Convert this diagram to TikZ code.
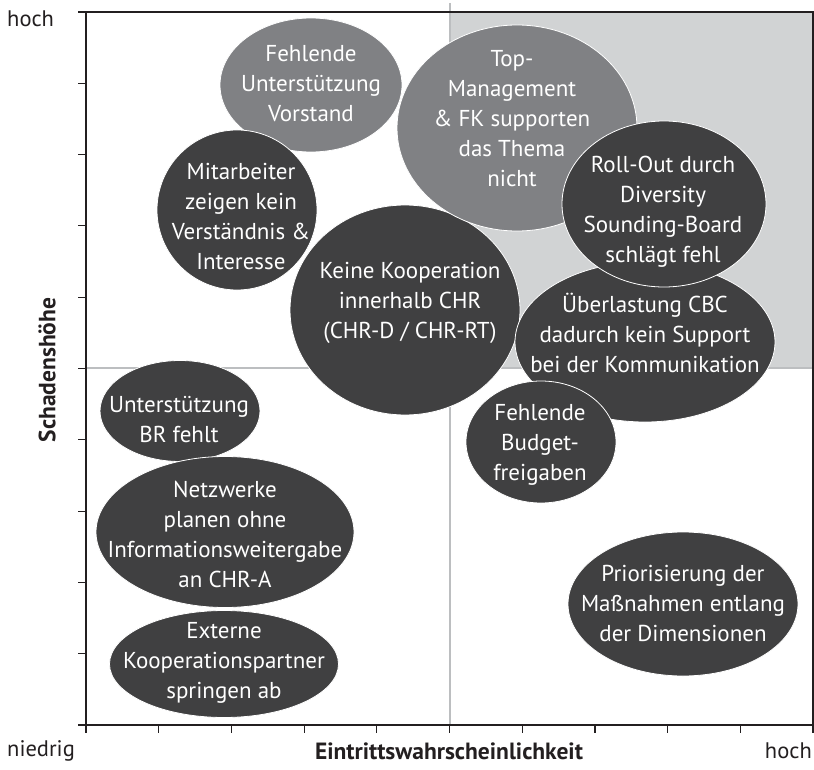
\documentclass[tikz,border=0pt]{standalone}
\usepackage{fontspec}
\setmainfont{PT Sans}
\usetikzlibrary{shapes.geometric}
\definecolor{blobdark}{HTML}{404041}
\definecolor{bloblight}{HTML}{808184}
\definecolor{zonegray}{HTML}{D1D3D4}
\definecolor{divider}{HTML}{BCBEC0}
\definecolor{axisink}{HTML}{231F20}
\begin{document}
\begin{tikzpicture}[x=1pt,y=-1pt,
  blobbase/.style={ellipse, draw=white, line width=0.8pt, inner sep=0pt},
  darkblob/.style={blobbase, fill=blobdark},
  lightblob/.style={blobbase, fill=bloblight},
  blobtext/.style={text=white, align=center, inner sep=0pt,
    font=\fontsize{23}{30}\selectfont},
  cornerlabel/.style={text=axisink, inner sep=0pt, font=\fontsize{22.5}{26}\selectfont},
  axistitle/.style={text=axisink, inner sep=0pt, font=\fontsize{23.5}{28}\selectfont\bfseries},
  axisline/.style={draw=axisink, line width=1.4pt},
  tickline/.style={draw=axisink, line width=1.2pt},
  dividerline/.style={draw=divider, line width=1.2pt}]
\useasboundingbox (0,0) rectangle (814,770);

% critical zone (high probability, high damage)
\fill[zonegray] (450,12) rectangle (813,368);

% quadrant dividers
\draw[dividerline] (450,3) -- (450,725);
\draw[dividerline] (86,368) -- (813,368);

% frame and axes
\draw[axisline] (78,12) -- (813,12) -- (813,733);
\draw[axisline] (86,12) -- (86,725) -- (813,725);
\draw[axisline] (78,725) -- (86,725);
\foreach \k in {0,...,10} {
  \draw[tickline] (78,{12+71.3*\k}) -- (86,{12+71.3*\k});
  \draw[tickline] ({86+72.7*\k},725) -- ({86+72.7*\k},733);
}

% risks, back to front
\node[lightblob, minimum width=182, minimum height=134] (vorstand) at (311,85) {};
\node[blobtext] (vorstand-t) at (311,84) {Fehlende\\Unterstützung\\Vorstand};

\node[darkblob, minimum width=160, minimum height=160] (mitarbeiter) at (237,210) {};
\node[blobtext] (mitarbeiter-t) at (241,216) {Mitarbeiter\\zeigen kein\\Verständnis \&\\Interesse};

\node[darkblob, minimum width=230, minimum height=210] (kooperation) at (405,310) {};
\node[blobtext] (kooperation-t) at (410,303) {Keine Kooperation\\innerhalb CHR\\(CHR-D / CHR-RT)};

\node[lightblob, minimum width=240, minimum height=206] (topmgmt) at (517,128) {};
\node[blobtext] (topmgmt-t) at (512,119) {Top-\\Management\\\& FK supporten\\das Thema\\nicht};

\node[darkblob, minimum width=260, minimum height=160] (cbc) at (645,342) {};
\node[blobtext] (cbc-t) at (645,333) {Überlastung CBC\\dadurch kein Support\\bei der Kommunikation};

\node[darkblob, minimum width=204, minimum height=166] (rollout) at (664,204) {};
\node[blobtext] (rollout-t) at (663,212) {Roll-Out durch\\Diversity\\Sounding-Board\\schlägt fehl};

\node[darkblob, minimum width=150, minimum height=122] (budget) at (541,442) {};
\node[blobtext] (budget-t) at (540,445) {Fehlende\\Budget-\\freigaben};

\node[darkblob, minimum width=160, minimum height=101] (br) at (180,411) {};
\node[blobtext] (br-t) at (179,420) {Unterstützung\\BR fehlt};

\node[darkblob, minimum width=258, minimum height=151] (netzwerke) at (225,532) {};
\node[blobtext] (netzwerke-t) at (225,534) {Netzwerke\\planen ohne\\Informationsweitergabe\\an CHR-A};

\node[darkblob, minimum width=229, minimum height=107] (extern) at (224,664) {};
\node[blobtext] (extern-t) at (224,663) {Externe\\Kooperationspartner\\springen ab};

\node[darkblob, minimum width=230, minimum height=144] (prio) at (683,604) {};
\node[blobtext] (prio-t) at (683,603) {Priorisierung der\\Maßnahmen entlang\\der Dimensionen};

% axis labels
\node[cornerlabel, anchor=west] (yhigh) at (7,19) {hoch};
\node[cornerlabel, anchor=west] (xlow) at (7,751) {niedrig};
\node[cornerlabel, anchor=east] (xhigh) at (812,751) {hoch};
\node[axistitle] (xtitle) at (449,751) {Eintrittswahrscheinlichkeit};
\node[axistitle, rotate=90] (ytitle) at (47,370) {Schadenshöhe};
\end{tikzpicture}
\end{document}
